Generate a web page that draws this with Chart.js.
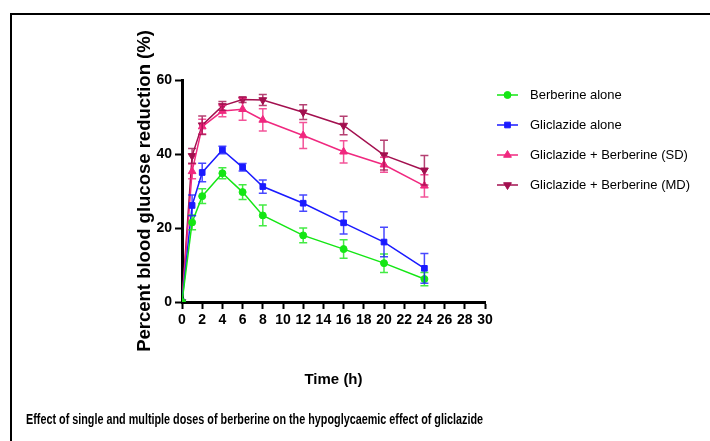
<!DOCTYPE html>
<html>
<head>
<meta charset="utf-8">
<script src="https://cdn.jsdelivr.net/npm/chart.js@4/dist/chart.umd.min.js"></script>
<style>
  html, body { margin: 0; padding: 0; background: #fff; }
  body { width: 710px; height: 441px; position: relative; overflow: hidden; font-family: Arial, "Liberation Sans", sans-serif; }
  #frame { position: absolute; left: 10px; top: 13px; width: 720px; height: 460px; border: 2px solid #000; box-sizing: border-box; }
  #wrap { position: absolute; left: 0; top: 0; width: 710px; height: 441px; }
  #caption { position: absolute; left: 26px; top: 411px; font-weight: bold; font-size: 14px; white-space: nowrap; transform-origin: 0 0; }
</style>
</head>
<body>
<div id="frame"></div>
<div id="wrap"><canvas id="chart" width="710" height="441"></canvas></div>
<div id="caption">Effect of single and multiple doses of berberine on the hypoglycaemic effect of gliclazide</div>
<script>
// time points (h)
const times = [0, 1, 2, 4, 6, 8, 12, 16, 20, 24]

// mean % reduction for each group
const berberine = [0, 21.5, 28.6, 34.8, 29.7, 23.4, 18.0, 14.3, 10.5, 6.2]
const gliclazide = [0, 26.1, 35.0, 41.1, 36.4, 31.2, 26.7, 21.4, 16.2, 9.1]
const comboSD = [0, 35.3, 47.4, 51.6, 52.1, 49.2, 45.0, 40.6, 37.1, 31.4]
const comboMD = [0, 39.5, 47.8, 53.0, 54.7, 54.6, 51.3, 47.7, 39.7, 35.6]

// error bars (+/-)
const berberineErr = [0, 2, 2, 1.5, 2, 2.8, 2, 2.5, 2.5, 1.8]
const gliclazideErr = [0, 2.8, 2.5, 1, 1, 1.8, 2.2, 3, 4, 4]
const comboSDErr = [0, 2, 2, 1.5, 3, 3, 3.5, 3, 2, 3]
const comboMDErr = [0, 2, 2.5, 1.2, 0.8, 1.5, 2, 2.5, 4, 4]

const labels = ["Berberine alone", "Gliclazide alone", "Gliclazide + Berberine (SD)", "Gliclazide + Berberine (MD)"]
const xTicks = [0, 2, 4, 6, 8, 10, 12, 14, 16, 18, 20, 22, 24, 26, 28, 30]
const yTicks = [0, 20, 40, 60]

const colors = ["#14e614", "#1a1aff", "#f0287f", "#a3104f"]
const styles = ["circle", "rect", "triangle", "triangle"]
const rotations = [0, 0, 0, 180]
const sizes = [3.5, 4, 4.5, 4.5]

const means = [berberine, gliclazide, comboSD, comboMD]
const errs = [berberineErr, gliclazideErr, comboSDErr, comboMDErr]

const datasets = means.map((m, i) => ({
  label: labels[i],
  data: times.map((t, j) => ({ x: t, y: m[j] })),
  err: errs[i],
  borderColor: colors[i],
  backgroundColor: colors[i],
  borderWidth: 1.5,
  pointStyle: styles[i],
  pointRotation: rotations[i],
  pointRadius: sizes[i],
  pointBorderWidth: 1,
  tension: 0,
}))

// draw error bars with caps
const errorBars = {
  id: "errorBars",
  afterDatasetsDraw(chart) {
    const ctx = chart.ctx
    const xs = chart.scales.x
    const ys = chart.scales.y
    chart.data.datasets.forEach((ds) => {
      ctx.save()
      ctx.strokeStyle = ds.borderColor
      ctx.globalAlpha = 0.8
      ctx.lineWidth = 1.5
      ds.data.forEach((p, j) => {
        const e = ds.err[j]
        if (!e) return
        const x = xs.getPixelForValue(p.x)
        const y1 = ys.getPixelForValue(p.y - e)
        const y2 = ys.getPixelForValue(p.y + e)
        ctx.beginPath()
        ctx.moveTo(x, y1)
        ctx.lineTo(x, y2)
        ctx.moveTo(x - 4, y1)
        ctx.lineTo(x + 4, y1)
        ctx.moveTo(x - 4, y2)
        ctx.lineTo(x + 4, y2)
        ctx.stroke()
      })
      ctx.restore()
    })
  },
}

// legend like the original: short line with marker, text on the right
const sideLegend = {
  id: "sideLegend",
  afterDraw(chart) {
    const ctx = chart.ctx
    const rowY = [95, 125, 155, 185]
    chart.data.datasets.forEach((ds, i) => {
      const y = rowY[i]
      ctx.save()
      ctx.strokeStyle = ds.borderColor
      ctx.fillStyle = ds.backgroundColor
      ctx.lineWidth = 1.5
      ctx.beginPath()
      ctx.moveTo(497, y)
      ctx.lineTo(518, y)
      ctx.stroke()
      ctx.lineWidth = 1
      Chart.helpers.drawPoint(ctx, {
        pointStyle: ds.pointStyle,
        rotation: ds.pointRotation,
        radius: ds.pointRadius,
        borderWidth: 1,
      }, 507.5, y)
      ctx.restore()
      ctx.save()
      ctx.fillStyle = "#000"
      ctx.font = "13px Arial, 'Liberation Sans', sans-serif"
      ctx.textBaseline = "middle"
      ctx.fillText(ds.label, 530, y)
      ctx.restore()
    })
  },
}

Chart.defaults.font.family = "Arial, 'Liberation Sans', sans-serif"
Chart.defaults.color = "#000"

new Chart(document.getElementById("chart"), {
  type: "line",
  data: { datasets },
  options: {
    responsive: false,
    animation: false,
    layout: { padding: { left: 134, right: 225, top: 80, bottom: 48 } },
    plugins: {
      legend: { display: false },
      tooltip: { enabled: false },
    },
    scales: {
      x: {
        type: "linear",
        min: 0,
        max: 30,
        afterBuildTicks: (s) => { s.ticks = xTicks.map((v) => ({ value: v })) },
        afterFit: (s) => { s.height = 91 },
        grid: { drawOnChartArea: false, drawTicks: true, tickLength: 7, tickWidth: 2, tickColor: "#000" },
        border: { display: true, color: "#000", width: 3 },
        ticks: { font: { size: 14, weight: "bold" }, color: "#000", padding: 3, maxRotation: 0, autoSkip: false },
        title: { display: true, text: "Time (h)", font: { size: 15, weight: "bold" }, color: "#000", padding: { top: 24 } },
      },
      y: {
        min: 0,
        max: 60,
        afterBuildTicks: (s) => { s.ticks = yTicks.map((v) => ({ value: v })) },
        afterFit: (s) => { s.width = 48 },
        grid: { drawOnChartArea: false, drawTicks: true, tickLength: 7, tickWidth: 2, tickColor: "#000" },
        border: { display: true, color: "#000", width: 3 },
        ticks: { font: { size: 14, weight: "bold" }, color: "#000", padding: 3 },
        title: { display: true, text: "Percent blood glucose reduction (%)", font: { size: 18.5, weight: "bold" }, color: "#000", padding: 0 },
      },
    },
  },
  plugins: [errorBars, sideLegend],
})

// squeeze the caption to the width used in the figure
const cap = document.getElementById("caption")
cap.style.transform = "scaleX(" + (457 / cap.offsetWidth) + ")"
</script>
</body>
</html>
